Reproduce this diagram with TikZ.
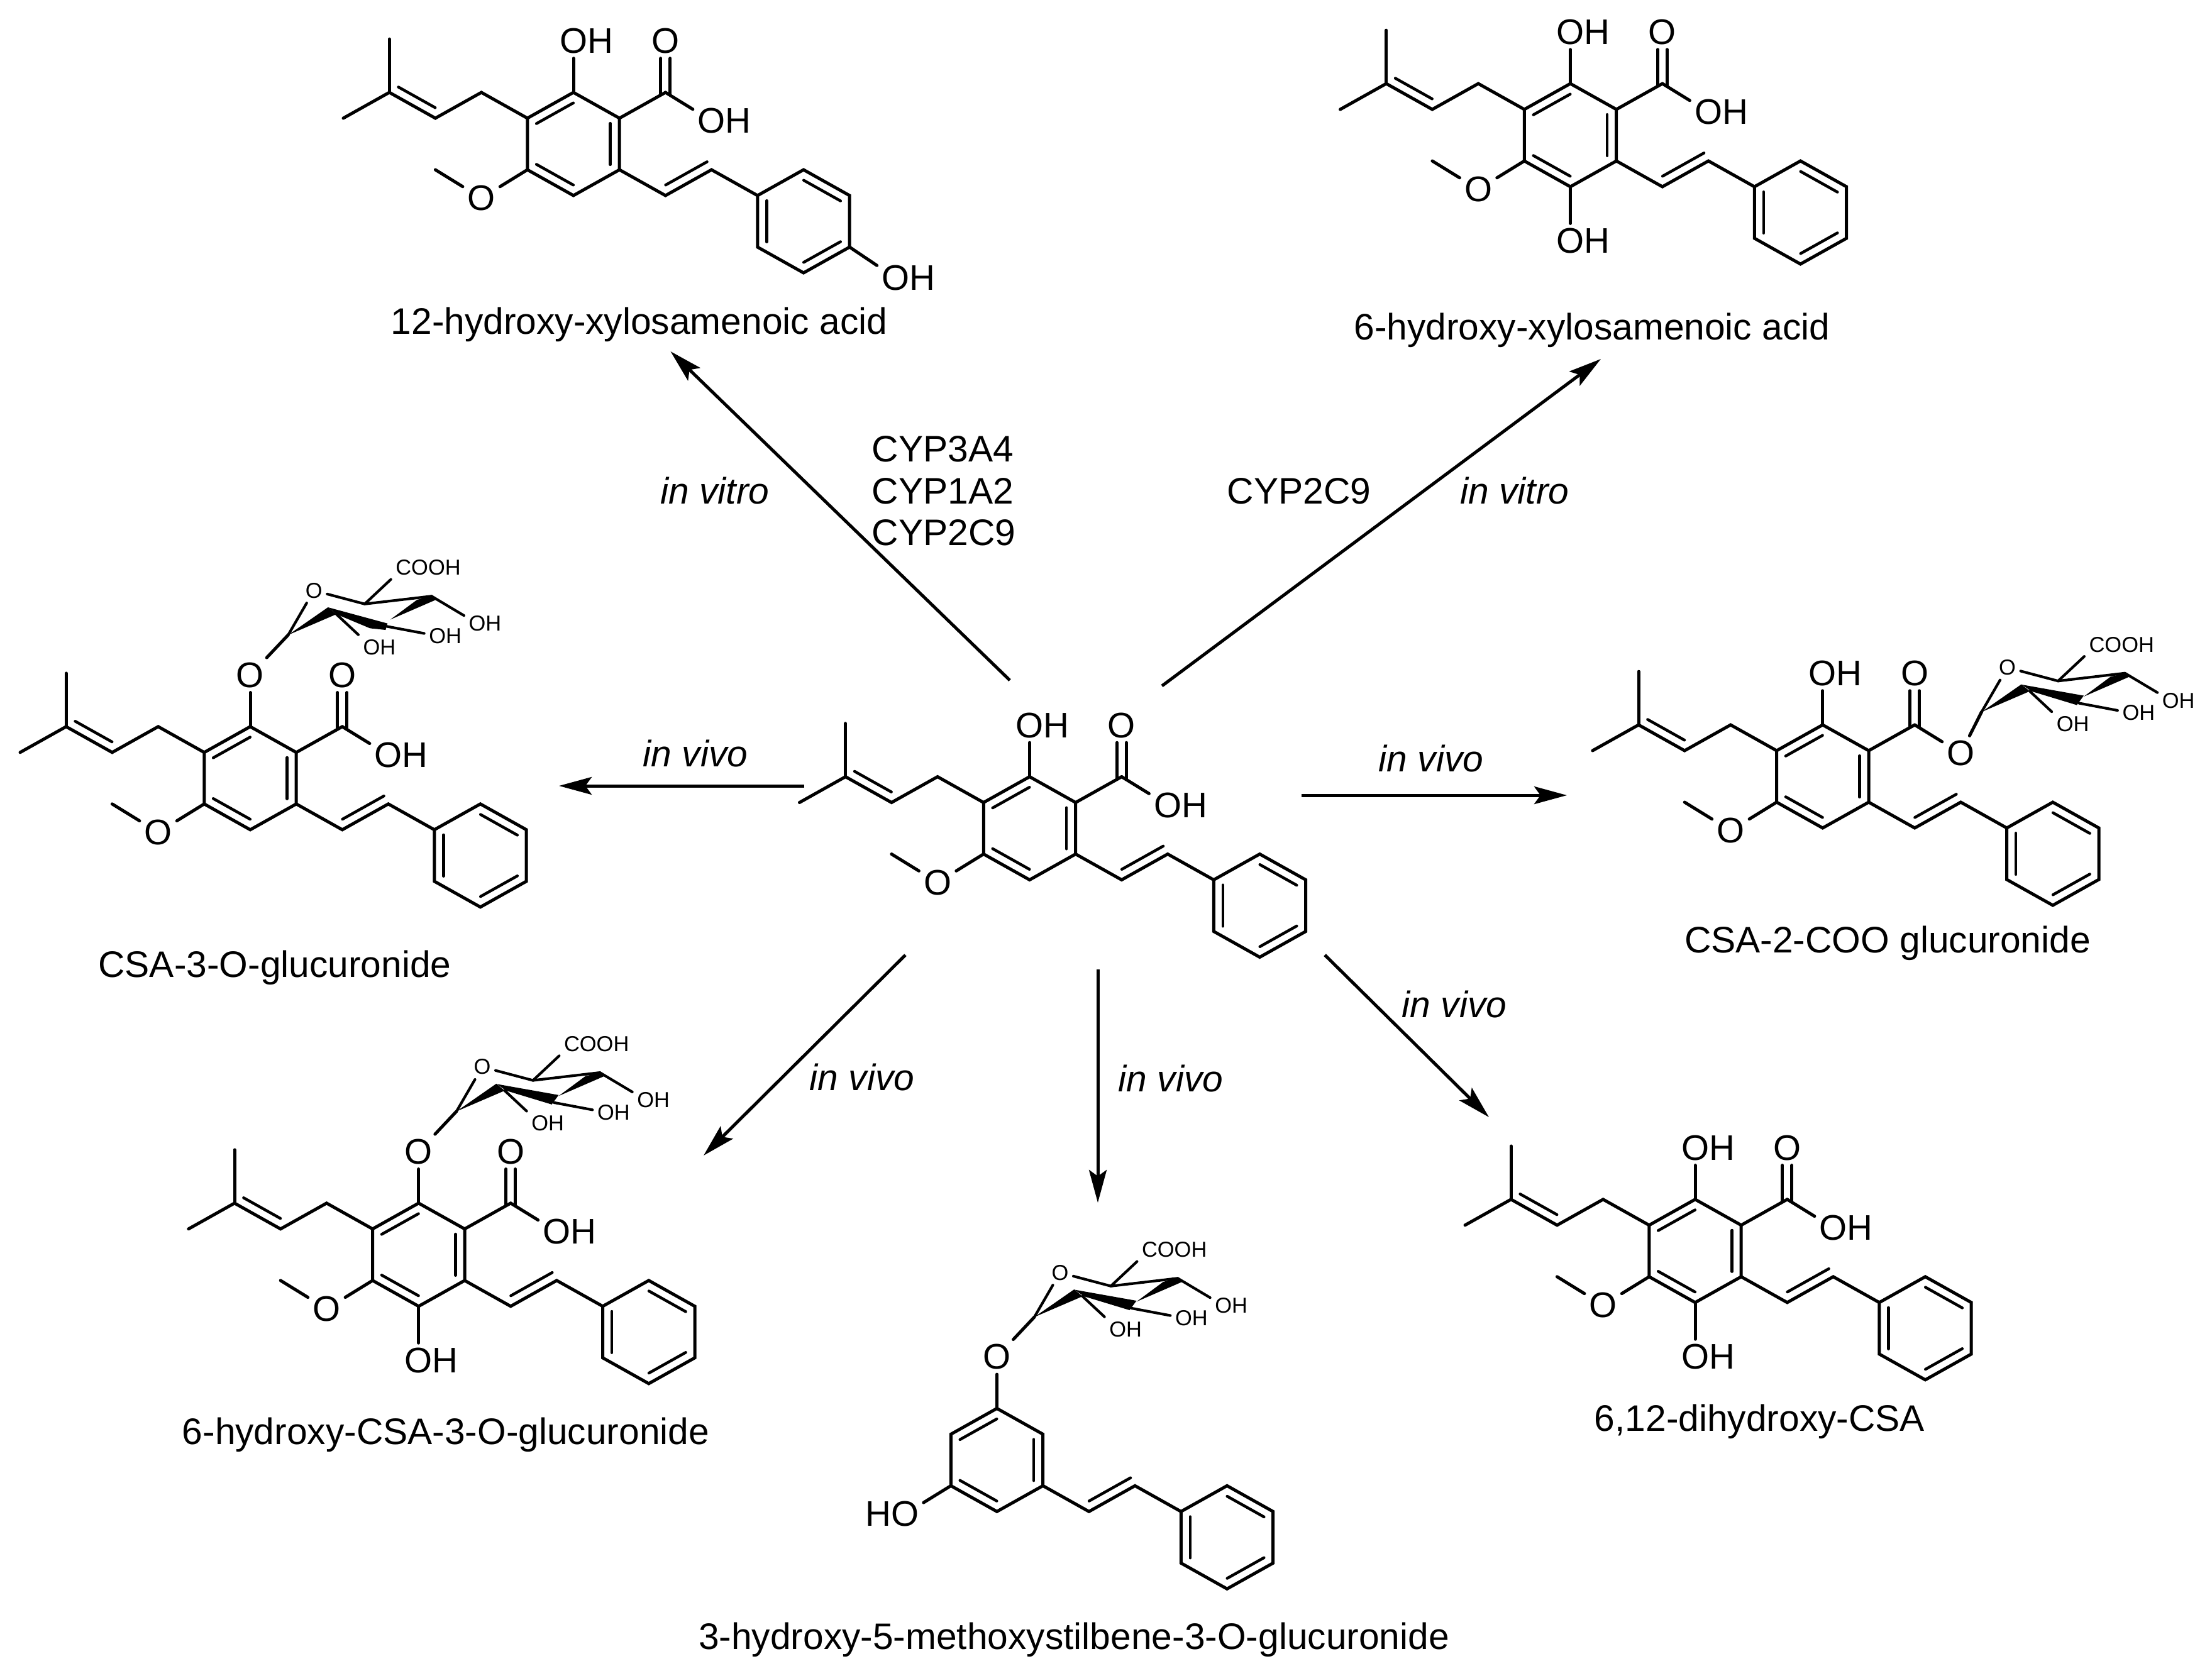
\documentclass[tikz,border=0pt]{standalone}
\usepackage{fontspec}
\setmainfont{Liberation Sans}
\usetikzlibrary{arrows.meta,calc}

\newcommand{\ohtext}{O\rlap{H}}

% second line of a double bond, on the left of #2 -> #3
\newcommand{\dbl}[3][.1]{
    \draw[inner] ($(#2)!.1!(#3)!.145cm!90:(#3)$) -- ($(#3)!#1!(#2)!.145cm!-90:(#2)$);
}
\newcommand{\oxy}[4]{
    \node[atom] (#1) at (#2) {#4};
    \draw[bond] (#3) -- (#1);
}

% ring, vinyl and phenyl
\newcommand{\stilbene}[1]{
    \foreach \n/\p in {r1/{0,2}, r2/{1,1}, r3/{1,-1}, r4/{0,-2}, r5/{-1,-1}, r6/{-1,1},
                       v1/{2,-2}, v2/{3,-1},
                       p1/{4,-2}, p2/{5,-1}, p3/{6,-2}, p4/{6,-4}, p5/{5,-5}, p6/{4,-4}}
        {\coordinate (#1\n) at (\p);}
    \draw[bond] (#1r1) -- (#1r2) -- (#1r3) -- (#1r4) -- (#1r5) -- (#1r6) -- cycle;
    \draw[bond] (#1p1) -- (#1p2) -- (#1p3) -- (#1p4) -- (#1p5) -- (#1p6) -- cycle;
    \draw[bond] (#1r3) -- (#1v1) -- (#1v2) -- (#1p1);
    \dbl{#1r1}{#1r6}
    \dbl{#1r3}{#1r2}
    \dbl{#1r5}{#1r4}
    \dbl{#1p1}{#1p6}
    \dbl{#1p3}{#1p2}
    \dbl{#1p5}{#1p4}
    \dbl[0]{#1v1}{#1v2}
}

% prenyl, methoxy and the carbonyl
\newcommand{\prenyl}[1]{
    \foreach \n/\p in {n1/{-2,2}, n2/{-3,1}, n3/{-4,2}, n4/{-5,1}, n5/{-4,4.07}, me/{-3,-1}, k/{2,2}}
        {\coordinate (#1\n) at (\p);}
    \draw[bond] (#1r6) -- (#1n1) -- (#1n2) -- (#1n3) -- (#1n4);
    \draw[bond] (#1n3) -- (#1n5);
    \dbl{#1n3}{#1n2}
    \node[atom] (#1om) at (-2,-2.1) {O};
    \draw[bond] (#1r5) -- (#1om) -- (#1me);
    \draw[bond] (#1r2) -- (#1k);
    \node[atom] (#1ko) at (2,4) {O};
    \draw[bond] ([shift={(-.075cm,-.04cm)}]#1k) -- ([xshift=-.075cm]#1ko.south);
    \draw[bond] ([shift={(.075cm,-.04cm)}]#1k) -- ([xshift=.075cm]#1ko.south);
}

% #1 = outline of the back wedge
\newcommand{\glucuronide}[3][(.64,-.435) -- (1.625,-.26) -- (1.515,-.11) -- (.79,-.33)]{
    \begin{scope}[shift={(#3)}]
        \foreach \n/\p in {c1/{0,0}, c2/{.767,-.33}, c3/{1.55,-.14}, c4/{2.28,-.617}, c5/{1.217,-.493}}
            {\coordinate (#2\n) at (\p);}
        \node[satom] (#2o) at (.41,-.707) {O};
        \node[satom] (#2cooh) at (1.835,-1.073) {C\rlap{OOH}};
        \node[satom] (#2oh4) at (3.007,-.183) {\ohtext};
        \node[satom] (#2oh3) at (2.374,.015) {\ohtext};
        \node[satom] (#2oh2) at (1.327,.193) {\ohtext};
        \fill (0,0) -- (.633,-.44) -- (.767,-.33) -- cycle;
        \fill #1 -- cycle;
        \fill (1.625,-.245) -- (2.05,-.56) -- (2.28,-.617) -- (2.35,-.56) -- cycle;
        \draw[sbond] (#2o) -- (#2c1);
        \draw[sbond] (#2o) -- (#2c5) -- (#2c4);
        \draw[sbond] (#2c5) -- (#2cooh);
        \draw[sbond] (#2c4) -- (#2oh4);
        \draw[sbond] (#2c3) -- (#2oh3);
        \draw[sbond] (#2c2) -- (#2oh2);
    \end{scope}
}

\begin{document}
\begin{tikzpicture}[
    x=1cm, y=-1cm,
    mol/.style={shift={(#1)}, x=.732cm, y=.41cm},
    bond/.style={line width=.05cm, line cap=round},
    inner/.style={line width=.045cm, line cap=round},
    sbond/.style={line width=.042cm, line cap=round},
    atom/.style={inner sep=.07cm, font=\fontsize{16.1}{18}\selectfont},
    satom/.style={inner sep=.07cm, font=\fontsize{9.8}{12}\selectfont},
    molname/.style={anchor=base, inner sep=0pt, font=\fontsize{16.7}{20}\selectfont},
    way/.style={anchor=base, inner sep=0pt, font=\fontsize{16.7}{20}\selectfont\itshape},
    arrow/.style={-{Stealth[length=.52cm, width=.28cm, inset=.1cm]}, line width=.05cm}
]
    \useasboundingbox (0,0) rectangle (35.18,26.57);

    % parent compound
    \begin{scope}[mol={16.375,13.175}]
        \stilbene{c}
        \prenyl{c}
        \oxy{coh}{0,4}{cr1}{\ohtext}
        \oxy{coh2}{3,.9}{ck}{\ohtext}
    \end{scope}

    % top left
    \begin{scope}[mol={9.12,2.29}]
        \stilbene{a}
        \prenyl{a}
        \oxy{aoh}{0,4}{ar1}{\ohtext}
        \oxy{aoh2}{3,.9}{ak}{\ohtext}
        \oxy{aoh3}{7,-5.2}{ap4}{\ohtext}
    \end{scope}
    \node[molname] (acap) at (10.165,5.31) {12-hydroxy-xylosamenoic acid};

    % top right
    \begin{scope}[mol={24.975,2.15}]
        \stilbene{b}
        \prenyl{b}
        \oxy{boh}{0,4}{br1}{\ohtext}
        \oxy{boh2}{3,.9}{bk}{\ohtext}
        \oxy{boh3}{0,-4.1}{br4}{\ohtext}
    \end{scope}
    \node[molname] (bcap) at (25.32,5.40) {6-hydroxy-xylosamenoic acid};

    % left
    \begin{scope}[mol={3.98,12.378}]
        \stilbene{d}
        \prenyl{d}
        \oxy{do}{0,4}{dr1}{O}
        \oxy{doh2}{3,.9}{dk}{\ohtext}
    \end{scope}
    \glucuronide[(.633,-.44) -- (1.58,-.183) -- (1.55,-.08) -- (1.30,-.107) -- (.767,-.33)]{ds}{4.583,10.10}
    \draw[bond] (do) -- (dsc1);
    \node[molname] (dcap) at (4.37,15.54) {CSA-3-O-glucuronide};

    % right
    \begin{scope}[mol={28.988,12.35}]
        \stilbene{e}
        \prenyl{e}
        \oxy{eoh}{0,4}{er1}{\ohtext}
        \oxy{eo}{3,.9}{ek}{O}
    \end{scope}
    \glucuronide{es}{31.515,11.325}
    \draw[bond] (eo) -- (esc1);
    \node[molname] (ecap) at (30.02,15.15) {CSA-2-COO glucuronide};

    % lower left
    \begin{scope}[mol={6.658,19.958}]
        \stilbene{f}
        \prenyl{f}
        \oxy{fo}{0,4}{fr1}{O}
        \oxy{foh2}{3,.9}{fk}{\ohtext}
        \oxy{foh3}{0,-4.1}{fr4}{\ohtext}
    \end{scope}
    \glucuronide{fs}{7.26,17.678}
    \draw[bond] (fo) -- (fsc1);
    \node[molname] (fcap) at (7.09,22.97) {6-hydroxy-CSA-3-O-glucuronide};

    % bottom
    \begin{scope}[mol={15.855,23.223}]
        \stilbene{g}
        \oxy{go}{0,4}{gr1}{O}
        \oxy{goh}{-2,-2.1}{gr5}{\llap{H}O}
    \end{scope}
    \glucuronide{gs}{16.45,20.95}
    \draw[bond] (go) -- (gsc1);
    \node[molname] (gcap) at (17.08,26.23) {3-hydroxy-5-methoxystilbene-3-O-glucuronide};

    % lower right
    \begin{scope}[mol={26.96,19.898}]
        \stilbene{h}
        \prenyl{h}
        \oxy{hoh}{0,4}{hr1}{\ohtext}
        \oxy{hoh2}{3,.9}{hk}{\ohtext}
        \oxy{hoh3}{0,-4.1}{hr4}{\ohtext}
    \end{scope}
    \node[molname] (hcap) at (27.985,22.76) {6,12-dihydroxy-CSA};

    % reaction arrows
    \coordinate (from1) at (16.06,10.82);  \coordinate (to1) at (10.665,5.59);
    \coordinate (from2) at (18.48,10.91);  \coordinate (to2) at (25.46,5.71);
    \coordinate (from3) at (12.79,12.50);  \coordinate (to3) at (8.89,12.50);
    \coordinate (from4) at (20.70,12.65);  \coordinate (to4) at (24.92,12.65);
    \coordinate (from5) at (14.40,15.19);  \coordinate (to5) at (11.19,18.38);
    \coordinate (from6) at (17.46,15.42);  \coordinate (to6) at (17.46,19.13);
    \coordinate (from7) at (21.07,15.19);  \coordinate (to7) at (23.68,17.77);
    \foreach \i in {1,...,7}
        \draw[arrow] (from\i) -- (to\i);

    \node[way] (vitro1) at (11.37,8.01) {in vitro};
    \node[way] (vitro2) at (24.09,8.01) {in vitro};
    \node[way] (vivo3) at (11.06,12.19) {in vivo};
    \node[way] (vivo4) at (22.76,12.27) {in vivo};
    \node[way] (vivo5) at (13.71,17.34) {in vivo};
    \node[way] (vivo6) at (18.62,17.36) {in vivo};
    \node[way] (vivo7) at (23.13,16.18) {in vivo};

    \node[molname, anchor=base west] (cyp1) at (13.86,7.34) {CYP3A4};
    \node[molname, anchor=base west] (cyp2) at (13.86,8.01) {CYP1A2};
    \node[molname, anchor=base west] (cyp3) at (13.86,8.67) {CYP2C9};
    \node[molname, anchor=base west] (cyp4) at (19.51,8.01) {CYP2C9};
\end{tikzpicture}
\end{document}
